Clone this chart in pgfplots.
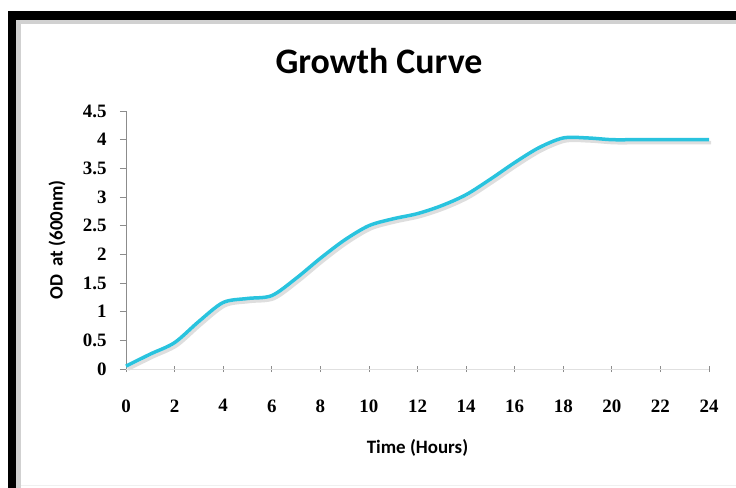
\documentclass[border=0pt]{standalone}
\usepackage{pgfplots}
\usepackage{pgfplotstable}
\pgfplotsset{compat=1.18}
\usepackage{fontspec}
\setmainfont{Carlito}
\newfontfamily\tickfont{Liberation Serif}
\definecolor{curve}{RGB}{41,195,222}
\pgfplotstableread{
t od
0 0.05
1 0.26
2 0.46
3 0.83
4 1.16
5 1.23
6 1.28
7 1.58
8 1.93
9 2.25
10 2.50
11 2.62
12 2.71
13 2.85
14 3.04
15 3.31
16 3.60
17 3.86
18 4.03
19 4.03
20 4.00
21 4.00
22 4.00
23 4.00
24 4.00
}\growth
\begin{document}
\begin{tikzpicture}
\useasboundingbox (-126bp,-119bp) rectangle (610bp,369bp);
% frame with soft shadow
\fill[black!18] (-110bp,-119bp) rectangle (-105bp,349bp);
\fill[black!18] (-110bp,349bp) rectangle (610bp,345bp);
\fill[black!6] (-105bp,-116bp) rectangle (610bp,-117bp);
\fill[black] (-118bp,-119bp) rectangle (-110bp,358bp);
\fill[black] (-118bp,349bp) rectangle (610bp,358bp);
\begin{axis}[
  at={(0,0)}, anchor=south west,
  scale only axis, width=583bp, height=258bp,
  xmin=0, xmax=24, ymin=0, ymax=4.5,
  xtick={0,2,4,6,8,10,12,14,16,18,20,22,24},
  ytick={0,0.5,1,1.5,2,2.5,3,3.5,4,4.5},
  axis lines*=left,
  x axis line style={draw=black!12},
  y axis line style={draw=black!45, line width=0.8pt},
  xtick align=center, ytick align=outside,
  major tick length=6bp,
  tick style={black!45, line width=0.8pt},
  /pgf/number format/assume math mode=true,
  ticklabel style={font=\tickfont\bfseries\fontsize{19}{21}\selectfont},
  xticklabel style={yshift=-24bp},
  yticklabel style={xshift=-10bp},
  title={Growth Curve},
  title style={font=\bfseries\fontsize{36}{40}\selectfont, at={(axis description cs:0,0)}, anchor=center, xshift=253bp, yshift=302bp},
  xlabel={Time (Hours)},
  ylabel={OD\ \ at (600nm)},
  label style={font=\bfseries\fontsize{19}{22}\selectfont},
  xlabel style={at={(axis description cs:0.5,-0.306)}, anchor=center},
  ylabel style={at={(axis description cs:-0.1184,0.5)}, anchor=center},
  clip=false,
]
\addplot[black!13, line width=3.5bp, smooth, xshift=2bp, yshift=-3bp] table[x=t,y=od] {\growth};
\addplot[curve, line width=3.5bp, smooth] table[x=t,y=od] {\growth};
\end{axis}
\end{tikzpicture}
\end{document}
